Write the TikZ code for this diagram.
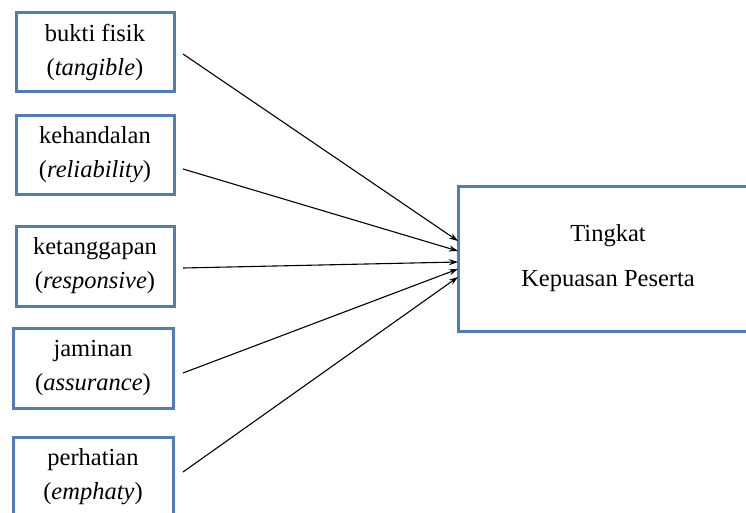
\documentclass[tikz,border=0pt]{standalone}
\usepackage{fontspec}
\setmainfont{Liberation Serif}
\usetikzlibrary{arrows.meta}
\definecolor{boxblue}{RGB}{79,125,181}
\tikzset{
  inbox/.style={draw=boxblue, line width=3pt, rectangle, inner sep=0pt, align=center,
    font=\fontsize{24.5pt}{34pt}\selectfont},
  outbox/.style={draw=boxblue, line width=3pt, rectangle, inner sep=0pt, align=center,
    font=\fontsize{24.5pt}{45pt}\selectfont},
  arr/.style={draw=black, line width=1.1pt, -{Stealth[length=9pt,width=6pt]}}
}
\begin{document}
\begin{tikzpicture}[x=1pt,y=-1pt]
\useasboundingbox (0,0) rectangle (746,513);
\fill[white] (0,0) rectangle (746,513);
\node[inbox, minimum width=158pt, minimum height=79pt] (b1) at (95,52.5) {\raisebox{3pt}{bukti fisik}\\\raisebox{3pt}{(\textit{tangible})}};
\node[inbox, minimum width=158pt, minimum height=78pt] (b2) at (95,155) {\raisebox{3pt}{kehandalan}\\\raisebox{3pt}{(\textit{reliability})}};
\node[inbox, minimum width=158pt, minimum height=80pt] (b3) at (95,266) {\raisebox{3pt}{ketanggapan}\\\raisebox{3pt}{(\textit{responsive})}};
\node[inbox, minimum width=160pt, minimum height=80pt] (b4) at (93,368) {\raisebox{3pt}{jaminan}\\\raisebox{3pt}{(\textit{assurance})}};
\node[inbox, minimum width=160pt, minimum height=79pt] (b5) at (93,476.5) {\raisebox{3pt}{perhatian}\\\raisebox{3pt}{(\textit{emphaty})}};
\node[outbox, minimum width=300pt, minimum height=145pt] (out) at (608,258.5) {\raisebox{3pt}{Tingkat}\\\raisebox{3pt}{Kepuasan Peserta}};
\coordinate (s1) at (183,54);
\coordinate (s2) at (183,169);
\coordinate (s3) at (183,268);
\coordinate (s4) at (183,373);
\coordinate (s5) at (183,472);
\coordinate (e1) at (458,241);
\coordinate (e2) at (458,251);
\coordinate (e3) at (458,262);
\coordinate (e4) at (458,269);
\coordinate (e5) at (458,277);
\draw[arr] (s1) -- (e1);
\draw[arr] (s2) -- (e2);
\draw[arr] (s3) -- (e3);
\draw[arr] (s4) -- (e4);
\draw[arr] (s5) -- (e5);
\end{tikzpicture}
\end{document}
